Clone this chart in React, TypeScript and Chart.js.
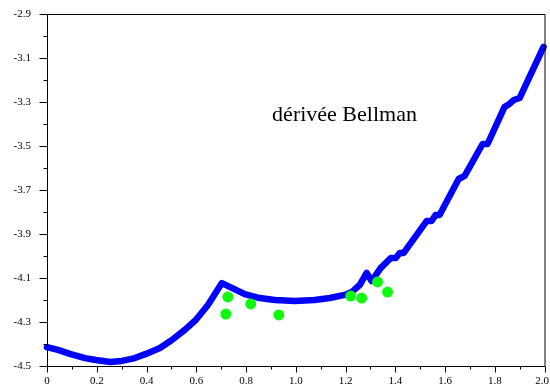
import React, { useEffect, useRef } from "react";
import { Chart, registerables } from "chart.js";

Chart.register(...registerables);

// Blue curve ("dérivée Bellman")
const curveX = [0, 0.044, 0.092, 0.153, 0.197, 0.253, 0.301, 0.353, 0.398, 0.454, 0.502, 0.554, 0.598, 0.647, 0.703, 0.743, 0.795, 0.855, 0.916, 0.996, 1.076, 1.137, 1.197, 1.225, 1.257, 1.285, 1.305, 1.341, 1.382, 1.402, 1.418, 1.434, 1.526, 1.546, 1.562, 1.578, 1.655, 1.679, 1.751, 1.771, 1.839, 1.859, 1.876, 1.9, 1.996];
const curveY = [-4.414, -4.427, -4.445, -4.464, -4.473, -4.482, -4.477, -4.464, -4.445, -4.418, -4.382, -4.336, -4.291, -4.223, -4.123, -4.145, -4.173, -4.191, -4.2, -4.205, -4.2, -4.191, -4.177, -4.164, -4.132, -4.077, -4.114, -4.055, -4.009, -4.009, -3.986, -3.986, -3.841, -3.841, -3.814, -3.814, -3.65, -3.636, -3.491, -3.491, -3.323, -3.309, -3.291, -3.282, -3.05];

// Green dots
const dotsX = [0.727, 0.719, 0.819, 0.932, 1.221, 1.265, 1.329, 1.369];
const dotsY = [-4.186, -4.264, -4.218, -4.268, -4.182, -4.191, -4.118, -4.164];

// Tick labels (every other tick of 0.1 step)
const xTickLabels = ["0", "0.2", "0.4", "0.6", "0.8", "1.0", "1.2", "1.4", "1.6", "1.8", "2.0"];
const yTickLabels = ["-4.5", "-4.3", "-4.1", "-3.9", "-3.7", "-3.5", "-3.3", "-3.1", "-2.9"];

const annotationText = "dérivée Bellman";
const annotationX = 0.905;
const annotationY = -3.385;

const FONT = '"Liberation Serif", "Times New Roman", serif';

const framePlugin = {
  id: "frame",
  afterDraw(chart: any) {
    const { ctx, chartArea, scales, width } = chart;
    const { left, right, top, bottom } = chartArea;
    const xs = scales.x;
    const ys = scales.y;
    ctx.save();
    ctx.strokeStyle = "#000";
    ctx.lineWidth = 1;
    ctx.beginPath();
    ctx.rect(left + 0.5, top + 0.5, right - left, bottom - top);
    ctx.stroke();
    ctx.beginPath();
    xs.ticks.forEach((t: any, i: number) => {
      const px = Math.round(xs.getPixelForValue(t.value)) + 0.5;
      const len = i % 2 === 0 ? 6 : 3;
      ctx.moveTo(px, bottom + 0.5);
      ctx.lineTo(px, bottom + 0.5 + len);
    });
    ys.ticks.forEach((t: any, i: number) => {
      const py = Math.round(ys.getPixelForValue(t.value)) + 0.5;
      const len = i % 2 === 0 ? 8 : 4;
      ctx.moveTo(left + 0.5, py);
      ctx.lineTo(left + 0.5 - len, py);
    });
    ctx.stroke();

    // x tick labels (kept inside the canvas)
    ctx.fillStyle = "#000";
    ctx.font = `11px ${FONT}`;
    ctx.textAlign = "center";
    ctx.textBaseline = "middle";
    xs.ticks.forEach((t: any, i: number) => {
      if (i % 2 !== 0) return;
      const label = xTickLabels[i / 2];
      const w = ctx.measureText(label).width;
      let px = xs.getPixelForValue(t.value);
      px = Math.min(px, width - 1 - w / 2);
      ctx.fillText(label, px, bottom + 15);
    });

    ctx.font = `22px ${FONT}`;
    ctx.textAlign = "left";
    ctx.textBaseline = "alphabetic";
    ctx.fillText(annotationText, xs.getPixelForValue(annotationX), ys.getPixelForValue(annotationY));
    ctx.restore();
  },
};

const zeroPad = (s: any) => {
  s.paddingLeft = 0;
  s.paddingRight = 0;
  s.paddingTop = 0;
  s.paddingBottom = 0;
};

export default function App() {
  const ref = useRef<HTMLCanvasElement | null>(null);
  useEffect(() => {
    if (!ref.current) return;
    const chart = new Chart(ref.current, {
      type: "scatter",
      data: {
        datasets: [
          {
            type: "scatter",
            data: dotsX.map((x, i) => ({ x, y: dotsY[i] })),
            backgroundColor: "rgb(15,250,15)",
            borderWidth: 0,
            pointRadius: 5.5,
          } as any,
          {
            type: "line",
            data: curveX.map((x, i) => ({ x, y: curveY[i] })),
            borderColor: "rgb(0,0,255)",
            borderWidth: 6.5,
            pointRadius: 0,
            tension: 0,
            fill: false,
            borderCapStyle: "round",
            borderJoinStyle: "round",
            clip: 6,
          } as any,
        ],
      },
      options: {
        responsive: false,
        animation: false,
        events: [],
        layout: { padding: { left: 0, right: 5, top: 14, bottom: 0 } },
        plugins: { legend: { display: false }, tooltip: { enabled: false } },
        scales: {
          x: {
            type: "linear",
            min: 0,
            max: 2,
            grid: { display: false, drawTicks: false },
            border: { display: false },
            afterFit: (s: any) => {
              s.height = 21;
              zeroPad(s);
            },
            ticks: {
              display: false,
              stepSize: 0.1,
              autoSkip: false,
              maxRotation: 0,
            },
          },
          y: {
            type: "linear",
            min: -4.5,
            max: -2.9,
            grid: { display: false, drawTicks: false },
            border: { display: false },
            afterFit: (s: any) => {
              s.width = 47;
              zeroPad(s);
            },
            ticks: {
              stepSize: 0.1,
              autoSkip: false,
              padding: 16,
              color: "#000",
              font: { family: FONT, size: 11 },
              callback: (_v: any, i: number) => (i % 2 === 0 ? yTickLabels[i / 2] : ""),
            },
          },
        },
      },
      plugins: [framePlugin],
    });
    return () => chart.destroy();
  }, []);
  return (
    <div style={{ position: "fixed", left: 0, top: 0, width: 550, height: 387, background: "#fff" }}>
      <canvas ref={ref} width={550} height={387} />
    </div>
  );
}
